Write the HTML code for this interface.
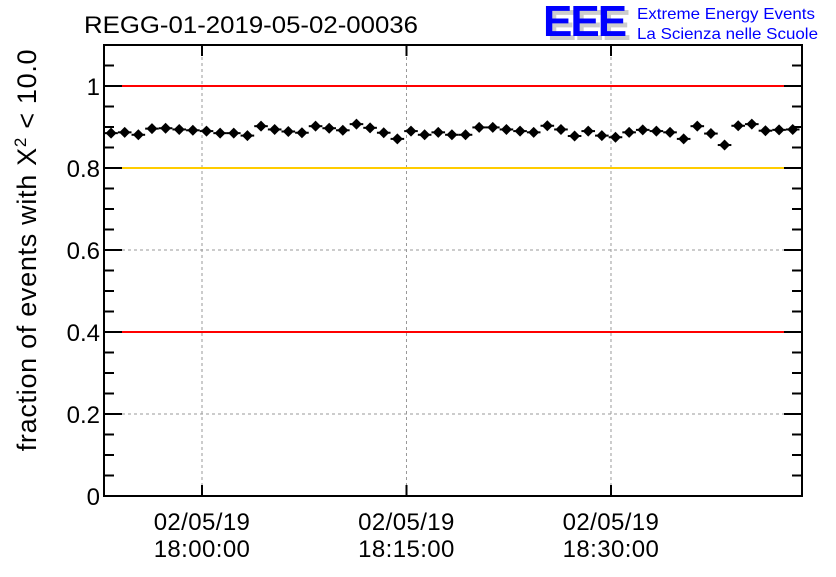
<!DOCTYPE html>
<html><head><meta charset="utf-8"><style>
body{margin:0;background:#fff;}
svg text{font-family:"Liberation Sans",sans-serif;}
</style></head><body>
<svg id="c" width="836" height="572" viewBox="0 0 836 572" xmlns="http://www.w3.org/2000/svg">
<text x="84" y="33" font-size="24" textLength="334" lengthAdjust="spacingAndGlyphs" fill="#000">REGG-01-2019-05-02-00036</text>
<g>
<text x="547" y="40" font-size="44" font-weight="bold" fill="#ccc" letter-spacing="-2">EEE</text>
<text x="543" y="36" font-size="44" font-weight="bold" fill="#0000ff" letter-spacing="-2">EEE</text>
<text x="637" y="19" font-size="16" textLength="178" lengthAdjust="spacingAndGlyphs" fill="#0000ff">Extreme Energy Events</text>
<text x="637" y="39" font-size="16" textLength="181" lengthAdjust="spacingAndGlyphs" fill="#0000ff">La Scienza nelle Scuole</text>
</g>
<text transform="translate(36,250) rotate(-90)" text-anchor="middle" font-size="27" letter-spacing="0.7">fraction of events with X<tspan dy="-10" font-size="17">2</tspan><tspan dy="10"> &lt; 10.0</tspan></text>
<g id="grid"></g><g id="refs"></g><g id="axes"></g><g id="pts"></g>
</svg>
<script>
const minutes=[-6.67,-5.67,-4.67,-3.67,-2.67,-1.67,-0.67,0.33,1.33,2.33,3.33,4.33,5.33,6.33,7.33,8.33,9.33,10.33,11.33,12.33,13.33,14.33,15.33,16.33,17.33,18.33,19.33,20.33,21.33,22.33,23.33,24.33,25.33,26.33,27.33,28.33,29.33,30.33,31.33,32.33,33.33,34.33,35.33,36.33,37.33,38.33,39.33,40.33,41.33,42.33,43.33];
const fractions=[0.885,0.887,0.881,0.896,0.897,0.894,0.892,0.890,0.885,0.885,0.879,0.902,0.894,0.889,0.886,0.902,0.897,0.892,0.907,0.898,0.886,0.871,0.890,0.881,0.887,0.881,0.881,0.899,0.899,0.894,0.890,0.887,0.903,0.894,0.878,0.890,0.879,0.875,0.887,0.893,0.890,0.887,0.871,0.902,0.884,0.856,0.903,0.907,0.891,0.893,0.894];
const errors=[0.007,0.007,0.007,0.007,0.007,0.007,0.007,0.007,0.007,0.007,0.007,0.007,0.007,0.007,0.007,0.007,0.007,0.007,0.007,0.007,0.007,0.007,0.007,0.007,0.007,0.007,0.007,0.007,0.007,0.007,0.007,0.007,0.007,0.007,0.007,0.007,0.007,0.007,0.007,0.007,0.007,0.007,0.007,0.007,0.007,0.007,0.007,0.007,0.007,0.007,0.007];
const yTicks=[0,0.2,0.4,0.6,0.8,1];
const yTickLabels=["0","0.2","0.4","0.6","0.8","1"];
const xTicks=[0,15,30];
const xTickLabels=[["02/05/19","18:00:00"],["02/05/19","18:15:00"],["02/05/19","18:30:00"]];
const refLines=[1.0,0.8,0.4];
const refColors=["#ff0000","#ffcc00","#ff0000"];
const L=104,R=802,T=45,B=496;
const X=m=>202+m*13.633;
const Y=v=>B-v*410;
const NS="http://www.w3.org/2000/svg";
function mk(p,tag,at){const e=document.createElementNS(NS,tag);for(const k in at)e.setAttribute(k,at[k]);document.getElementById(p).appendChild(e);return e;}
yTicks.forEach((v,i)=>{
 if(v>0&&v<1&&v!==0.8&&v!==0.4){const g=mk('grid','line',{x1:L,x2:R,y1:Y(v),y2:Y(v),stroke:'#999','stroke-dasharray':'3,3'});
 
 }
 const t=mk('axes','text',{x:L-4,y:Y(v)+9,'text-anchor':'end','font-size':'24'});t.textContent=yTickLabels[i];
 
 
});
xTicks.forEach((m,i)=>{
 const g=mk('grid','line',{x1:X(m),x2:X(m),y1:T,y2:B,stroke:'#999','stroke-dasharray':'3,3'});
 
 
 mk('axes','line',{x1:X(m),x2:X(m),y1:B,y2:B-11,stroke:'#000','stroke-width':2});
 mk('axes','line',{x1:X(m),x2:X(m),y1:T,y2:T+11,stroke:'#000','stroke-width':2});
 const t=mk('axes','text',{x:X(m),y:530,'text-anchor':'middle','font-size':'24','letter-spacing':'0.4'});t.textContent=xTickLabels[i][0];
 
 
 const t2=mk('axes','text',{x:X(m),y:557,'text-anchor':'middle','font-size':'24','letter-spacing':'0.4'});t2.textContent=xTickLabels[i][1];
 
 
});
for(let v=0.05;v<1.1;v+=0.05){const y=Y(v);const major=Math.abs(v*5-Math.round(v*5))<1e-6;const len=major?18:10;
 mk('axes','line',{x1:L,x2:L+len,y1:y,y2:y,stroke:'#000','stroke-width':2});
 mk('axes','line',{x1:R,x2:R-len,y1:y,y2:y,stroke:'#000','stroke-width':2});}
refLines.forEach((v,i)=>{const l=mk('refs','line',{x1:L,x2:R,y1:Y(v),y2:Y(v),stroke:refColors[i],'stroke-width':2});
 
 });
const fr=mk('axes','rect',{x:L,y:T,width:R-L,height:B-T,fill:'none',stroke:'#000','stroke-width':2});


minutes.forEach((m,i)=>{const x=X(m),y=Y(fractions[i]),e=errors[i]*410;
 const g=mk('pts','g',{});
 
 
 const a=document.createElementNS(NS,'line');a.setAttribute('x1',x-6.8);a.setAttribute('x2',x+6.8);a.setAttribute('y1',y);a.setAttribute('y2',y);a.setAttribute('stroke','#000');a.setAttribute('stroke-width',2);g.appendChild(a);
 const b=document.createElementNS(NS,'line');b.setAttribute('x1',x);b.setAttribute('x2',x);b.setAttribute('y1',y-e);b.setAttribute('y2',y+e);b.setAttribute('stroke','#000');b.setAttribute('stroke-width',2);g.appendChild(b);
 const d=document.createElementNS(NS,'polygon');d.setAttribute('points',`${x},${y-5.5} ${x+5.5},${y} ${x},${y+5.5} ${x-5.5},${y}`);d.setAttribute('fill','#000');g.appendChild(d);
});
</script>
</body></html>
